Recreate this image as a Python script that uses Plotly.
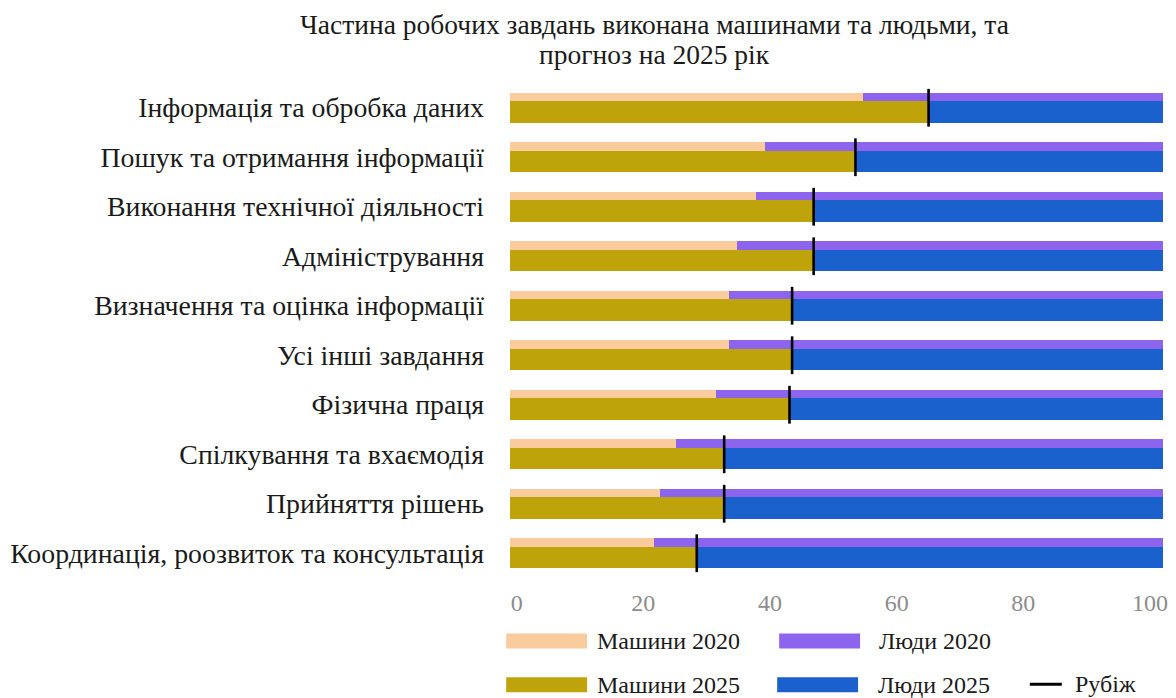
import plotly.graph_objects as go

# Task categories, top to bottom
categories = [
    "Інформація та обробка даних",
    "Пошук та отримання інформації",
    "Виконання технічної діяльності",
    "Адміністрування",
    "Визначення та оцінка інформації",
    "Усі інші завдання",
    "Фізична праця",
    "Спілкування та вхаємодія",
    "Прийняття рішень",
    "Координація, роозвиток та консультація",
]

# Share of work tasks done by machines (%), the rest is done by people
machines_2020 = [54.0, 39.1, 37.6, 34.8, 33.6, 33.6, 31.5, 25.4, 23.0, 22.1]
machines_2025 = [64.1, 52.9, 46.5, 46.5, 43.2, 43.2, 42.8, 32.8, 32.8, 28.6]
people_2020 = [100 - v for v in machines_2020]
people_2025 = [100 - v for v in machines_2025]

x_ticks = [0, 20, 40, 60, 80, 100]

legend_labels = ["Машини 2020", "Люди 2020", "Машини 2025", "Люди 2025", "Рубіж"]
title_lines = ["Частина робочих завдань виконана машинами та людьми, та",
               "прогноз на 2025 рік"]

C_M20 = "#FACB9C"
C_P20 = "#8C64EE"
C_M25 = "#BEA40A"
C_P25 = "#1A61CD"

FONT = "Liberation Serif"
TEXT = "#1a1a1a"

W, H = 1176, 698
L, R, T, B = 509.5, 1163.3, 82.5, 578.5

fig = go.Figure()

# 2020: thin bar on top of each row
fig.add_trace(go.Bar(y=categories, x=machines_2020, base=0, orientation="h",
                     offset=-0.302, width=0.169, marker_color=C_M20,
                     marker_line_width=0, name=legend_labels[0], showlegend=False))
fig.add_trace(go.Bar(y=categories, x=people_2020, base=machines_2020, orientation="h",
                     offset=-0.302, width=0.169, marker_color=C_P20,
                     marker_line_width=0, name=legend_labels[1], showlegend=False))
# 2025: thicker bar underneath
fig.add_trace(go.Bar(y=categories, x=machines_2025, base=0, orientation="h",
                     offset=-0.133, width=0.435, marker_color=C_M25,
                     marker_line_width=0, name=legend_labels[2], showlegend=False))
fig.add_trace(go.Bar(y=categories, x=people_2025, base=machines_2025, orientation="h",
                     offset=-0.133, width=0.435, marker_color=C_P25,
                     marker_line_width=0, name=legend_labels[3], showlegend=False))
# Boundary marker at the 2025 machine share
fig.add_trace(go.Scatter(y=categories, x=machines_2025, mode="markers",
                         marker=dict(symbol="line-ns-open", size=27, color="#000000",
                                     line=dict(width=2.6, color="#000000")),
                         name=legend_labels[4], showlegend=False, cliponaxis=False))
# Percentage scale shown under the bars
fig.add_trace(go.Scatter(x=[], y=[], xaxis="x2", yaxis="y", mode="markers",
                         showlegend=False, hoverinfo="skip"))


def px_x(v):
    return (v - L) / (R - L)


def px_y(v):
    return (B - v) / (B - T)


# Legend: two rows of wide swatches with labels
shapes = []
annotations = []
legend_rows = [
    (641.7, [(505.7, 586.7, C_M20, 595, legend_labels[0]),
             (779.0, 860.0, C_P20, 877, legend_labels[1])]),
    (685.5, [(505.7, 586.7, C_M25, 595, legend_labels[2]),
             (777.0, 858.0, C_P25, 876, legend_labels[3])]),
]
for yc, items in legend_rows:
    for x0, x1, col, tx, lab in items:
        shapes.append(dict(type="rect", xref="paper", yref="paper",
                           x0=px_x(x0), x1=px_x(x1), y0=px_y(yc - 7.5), y1=px_y(yc + 7.5),
                           fillcolor=col, line=dict(width=0)))
        annotations.append(dict(xref="paper", yref="paper", x=px_x(tx), y=px_y(yc),
                                xanchor="left", yanchor="middle", text=lab, showarrow=False,
                                font=dict(family=FONT, size=24, color=TEXT)))
shapes.append(dict(type="line", xref="paper", yref="paper",
                   x0=px_x(1030), x1=px_x(1062), y0=px_y(685), y1=px_y(685),
                   line=dict(color="#000000", width=3)))
annotations.append(dict(xref="paper", yref="paper", x=px_x(1073), y=px_y(685),
                        xanchor="left", yanchor="middle", text=legend_labels[4], showarrow=False,
                        font=dict(family=FONT, size=24, color=TEXT)))

# Two-line title
for text, yc in zip(title_lines, [24, 54]):
    annotations.append(dict(xref="paper", yref="paper", x=px_x(654), y=px_y(yc),
                            xanchor="center", yanchor="middle", text=text, showarrow=False,
                            font=dict(family=FONT, size=27.5, color=TEXT)))

fig.update_layout(
    width=W, height=H,
    margin=dict(l=L, r=W - R, t=T, b=H - B, pad=0, autoexpand=False),
    paper_bgcolor="white", plot_bgcolor="white",
    barmode="overlay", bargap=0,
    showlegend=False,
    xaxis=dict(range=[0, 100], showgrid=False, zeroline=False, showticklabels=False,
               ticks="", showline=False, fixedrange=True, automargin=False),
    xaxis2=dict(range=[-1.058, 102.05], overlaying="x", anchor="y", side="bottom",
                tickvals=x_ticks, ticktext=[str(v) for v in x_ticks],
                showgrid=False, zeroline=False, showline=False, ticks="",
                ticklabelstandoff=8, automargin=False,
                tickfont=dict(family=FONT, size=24, color="#8c8c8c")),
    yaxis=dict(categoryorder="array", categoryarray=categories, range=[9.5, -0.5],
               showgrid=False, zeroline=False, showline=False, ticks="",
               ticklabelstandoff=25, automargin=False,
               tickfont=dict(family=FONT, size=27.8, color=TEXT)),
    shapes=shapes,
    annotations=annotations,
)

fig.write_html("out.html")
